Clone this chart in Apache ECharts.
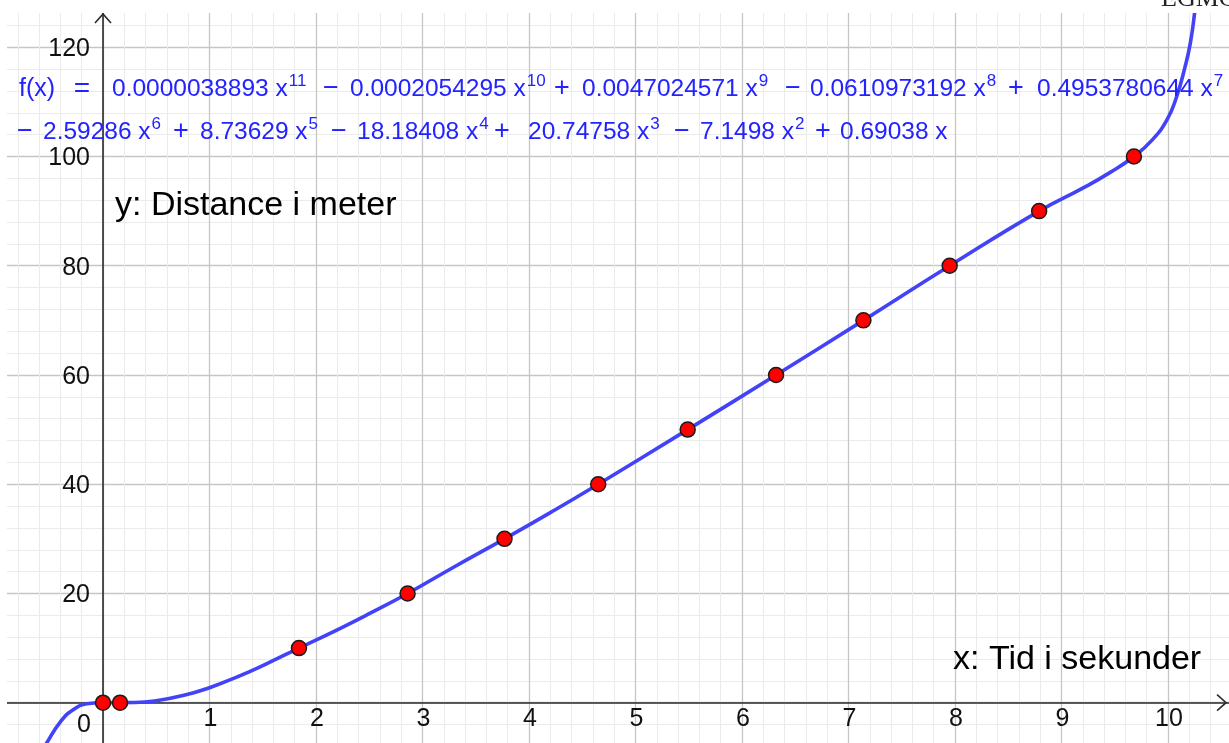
<!DOCTYPE html>
<html><head><meta charset="utf-8">
<script src="https://cdn.jsdelivr.net/npm/echarts@6/dist/echarts.min.js"></script>
<style>html,body{margin:0;padding:0;background:#fff;}#c{width:1229px;height:743px;}</style>
</head><body><div id="c"></div>
<script>
// ---- data ----
const pointX = [0, 0.16, 1.84, 2.86, 3.77, 4.65, 5.49, 6.32, 7.14, 7.95, 8.79, 9.68];
const pointY = [0, 0, 10, 20, 30, 40, 50, 60, 70, 80, 90, 100];
const curveX = [-0.57, -0.53, -0.4, -0.28, -0.15, 0, 0.3, 0.5, 0.75, 1.0, 1.25, 1.5, 1.84, 2.2, 2.5, 2.86, 3.3, 3.77, 4.2, 4.65, 5.49, 6.32, 7.14, 7.95, 8.79, 9.2, 9.45, 9.68, 9.85, 9.99, 10.08, 10.16, 10.21, 10.25, 10.29];
const curveY = [-8.6, -7.4, -3.5, -1.3, -0.2, 0, 0.03, 0.35, 1.3, 2.75, 4.65, 6.8, 10, 13.35, 16.3, 20, 24.9, 30, 34.8, 40, 50, 60, 70, 80, 90, 94.2, 97, 100, 103, 106.7, 110.9, 116.4, 120.8, 126.3, 133];
const xTickValues = [1, 2, 3, 4, 5, 6, 7, 8, 9, 10];
const xTickLabels = ['1','2','3','4','5','6','7','8','9','10'];
const yTickValues = [20, 40, 60, 80, 100, 120];
const yTickLabels = ['20','40','60','80','100','120'];
const originLabel = '0';
const xTitle = 'x: Tid i sekunder';
const yTitle = 'y: Distance i meter';
const fLabel = 'f(x)';
const termSigns1 = ['', '\u2212', '+', '\u2212', '+'];
const termCoefs1 = ['0.0000038893', '0.0002054295', '0.0047024571', '0.0610973192', '0.4953780644'];
const termExps1 = ['11', '10', '9', '8', '7'];
const termSigns2 = ['\u2212', '+', '\u2212', '+', '\u2212', '+'];
const termCoefs2 = ['2.59286', '8.73629', '18.18408', '20.74758', '7.1498', '0.69038'];
const termExps2 = ['6', '5', '4', '3', '2', ''];
const cornerText = 'EGMO';

// ---- layout (not data) ----
const signC1 = [null, 331, 562, 793, 1016];
const coefX1 = [112, 350, 582, 810, 1037];
const signC2 = [25, 181, 339, 502, 682, 823];
const coefX2 = [43, 200, 357, 528, 700, 840];
const FONT = '"Liberation Sans", Arial, sans-serif';
const BLUE_TXT = '#2323ff';

const chart = echarts.init(document.getElementById('c'), null, {renderer: 'canvas'});
const pxPerX = 106.5, pxPerY = 5.462, x0px = 103, y0px = 702.7;
const xMin = -1, xMax = 11, yMin = -20, yMax = 140;

chart.setOption({
  animation: false,
  backgroundColor: '#ffffff',
  grid: {
    left: x0px + xMin * pxPerX,
    right: 1229 - (x0px + xMax * pxPerX),
    top: y0px - yMax * pxPerY,
    bottom: 743 - (y0px - yMin * pxPerY),
    containLabel: false,
    outerBoundsMode: 'none'
  },
  xAxis: {
    type: 'value', min: xMin, max: xMax, interval: 1,
    axisLine: {show: true, onZero: true, lineStyle: {color: '#2b2b2b', width: 1.6}},
    axisTick: {show: false},
    axisLabel: {show: false},
    splitLine: {show: true, lineStyle: {color: '#c6c6c6', width: 1.3}},
    minorTick: {show: false, splitNumber: 5},
    minorSplitLine: {show: true, lineStyle: {color: '#ebebeb', width: 1}}
  },
  yAxis: {
    type: 'value', min: yMin, max: yMax, interval: 20,
    axisLine: {show: true, onZero: true, lineStyle: {color: '#2b2b2b', width: 1.6}},
    axisTick: {show: false},
    axisLabel: {show: false},
    splitLine: {show: true, lineStyle: {color: '#c6c6c6', width: 1.3}},
    minorTick: {show: false, splitNumber: 5},
    minorSplitLine: {show: true, lineStyle: {color: '#ebebeb', width: 1}}
  },
  series: [
    {
      type: 'line', data: curveX.map((x, i) => [x, curveY[i]]),
      showSymbol: false, smooth: 0.5, z: 3,
      lineStyle: {color: '#4242f8', width: 3.6}
    },
    {
      type: 'scatter', data: pointX.map((x, i) => [x, pointY[i]]),
      symbolSize: 15, z: 4,
      itemStyle: {color: '#ff0000', borderColor: '#1a1a1a', borderWidth: 1.5, opacity: 1}
    }
  ]
});

const P = (x, y) => chart.convertToPixel({gridIndex: 0}, [x, y]);
const origin = P(0, 0);
const yTip = P(0, 126.1);
const xTip = P(10.545, 0);

const g = [];
g.push({type: 'rect', z: 100, shape: {x: 0, y: 0, width: 1229, height: 13}, style: {fill: '#fff'}});
g.push({type: 'rect', z: 100, shape: {x: 0, y: 0, width: 7, height: 743}, style: {fill: '#fff'}});
g.push({type: 'polyline', z: 101, shape: {points: [[yTip[0] - 8, yTip[1] + 9], yTip, [yTip[0] + 8, yTip[1] + 9]]}, style: {stroke: '#2b2b2b', lineWidth: 1.6, fill: null}});
g.push({type: 'polyline', z: 101, shape: {points: [[xTip[0] - 9, xTip[1] - 8], xTip, [xTip[0] - 9, xTip[1] + 8]]}, style: {stroke: '#2b2b2b', lineWidth: 1.6, fill: null}});
g.push({type: 'text', z: 101, x: origin[0] - 19, y: origin[1] + 22, style: {text: originLabel, font: '25px ' + FONT, fill: '#111', align: 'center', verticalAlign: 'middle'}});
xTickValues.forEach((v, i) => {
  const p = P(v, 0);
  g.push({type: 'text', z: 101, x: p[0] + 1, y: p[1] + 16, style: {text: xTickLabels[i], font: '25px ' + FONT, fill: '#111', align: 'center', verticalAlign: 'middle'}});
});
yTickValues.forEach((v, i) => {
  const p = P(0, v);
  g.push({type: 'text', z: 101, x: p[0] - 13, y: p[1] + 2, style: {text: yTickLabels[i], font: '25px ' + FONT, fill: '#111', align: 'right', verticalAlign: 'middle'}});
});
g.push({type: 'text', z: 101, x: 115, y: 206, style: {text: yTitle, font: '34px ' + FONT, fill: '#000', align: 'left', verticalAlign: 'middle'}});
g.push({type: 'text', z: 101, x: 953, y: 660, style: {text: xTitle, font: '34px ' + FONT, fill: '#000', align: 'left', verticalAlign: 'middle'}});
g.push({type: 'text', z: 102, x: 1161, y: 12, style: {text: cornerText, font: '26px "Liberation Serif", serif', fill: '#222', align: 'left', verticalAlign: 'bottom'}});

const rich = {
  m: {fontSize: 24.5, fontFamily: FONT, fill: BLUE_TXT, lineHeight: 32, verticalAlign: 'middle'},
  s: {fontSize: 17, fontFamily: FONT, fill: BLUE_TXT, lineHeight: 17, verticalAlign: 'top', padding: [0, 0, 0, 1]}
};
function termText(coef, exp) {
  let t = '{m|' + coef + ' x}';
  if (exp) t += '{s|' + exp + '}';
  return t;
}
function addLine(signs, coefs, exps, sc, cx, y) {
  for (let i = 0; i < coefs.length; i++) {
    if (signs[i]) g.push({type: 'text', z: 101, x: sc[i], y: y, style: {text: signs[i], font: '27px ' + FONT, fill: BLUE_TXT, align: 'center', verticalAlign: 'middle'}});
    g.push({type: 'text', z: 101, x: cx[i], y: y, style: {text: termText(coefs[i], exps[i]), fill: BLUE_TXT, rich: rich, align: 'left', verticalAlign: 'middle'}});
  }
}
g.push({type: 'text', z: 101, x: 19, y: 89, style: {text: fLabel, font: '25px ' + FONT, fill: BLUE_TXT, align: 'left', verticalAlign: 'middle'}});
g.push({type: 'text', z: 101, x: 82, y: 89, style: {text: '=', font: '28px ' + FONT, fill: BLUE_TXT, align: 'center', verticalAlign: 'middle'}});
addLine(termSigns1, termCoefs1, termExps1, signC1, coefX1, 89);
addLine(termSigns2, termCoefs2, termExps2, signC2, coefX2, 132);

chart.setOption({graphic: {elements: g}});
</script>
</body></html>
